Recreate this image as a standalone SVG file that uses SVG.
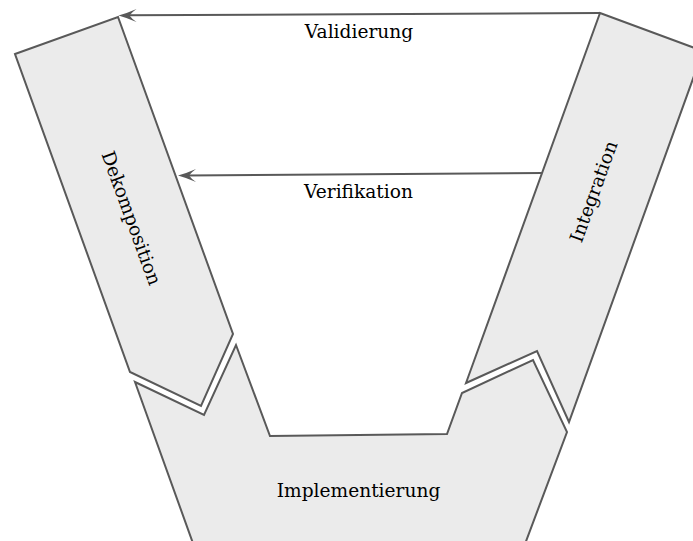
<svg xmlns="http://www.w3.org/2000/svg" width="693" height="541" viewBox="0 0 693 541">
  <style>
    .phase { fill: #ebebeb; stroke: #595959; stroke-width: 2; stroke-linejoin: miter; }
    .flow { fill: none; stroke: #595959; stroke-width: 2; }
    .tip { fill: #595959; stroke: none; }
    text { font-family: "DejaVu Serif", "Liberation Serif", serif; font-size: 18.6px; fill: #000; }
  </style>
  <defs>
    <!-- curved arrowhead, tip at origin pointing left -->
    <path id="head" class="tip" d="M0,0 Q9,-2.5 18,-6.5 Q13,-3 11,0 Q13,3 18,6.5 Q9,2.5 0,0 Z"/>
  </defs>

  <g id="implementierung">
    <polygon class="phase" points="135,382 204,415 236,345 270,436 447,434 462,393 533,360 567,432 519,560 199,560"/>
    <text x="358.5" y="497" text-anchor="middle">Implementierung</text>
  </g>

  <g id="dekomposition">
    <polygon class="phase" points="15,54 118,17 233,334 201,406 130,372"/>
    <text x="131.5" y="218" text-anchor="middle" dominant-baseline="central" transform="rotate(70 131.5 218)">Dekomposition</text>
  </g>

  <g id="integration">
    <polygon class="phase" points="600,13 703,51 569,422 537,351 466,383"/>
    <text x="593.5" y="191.5" text-anchor="middle" dominant-baseline="central" transform="rotate(-70 593.5 191.5)">Integration</text>
  </g>

  <g id="connectors">
    <g id="validierung">
      <line class="flow" x1="600" y1="13" x2="126" y2="15.3"/>
      <use href="#head" transform="translate(118.5 15.4)"/>
      <text x="359" y="38" text-anchor="middle">Validierung</text>
    </g>
    <g id="verifikation">
      <line class="flow" x1="542" y1="173" x2="186" y2="175.5"/>
      <use href="#head" transform="translate(178 175.6)"/>
      <text x="358.5" y="198" text-anchor="middle">Verifikation</text>
    </g>
  </g>
</svg>
